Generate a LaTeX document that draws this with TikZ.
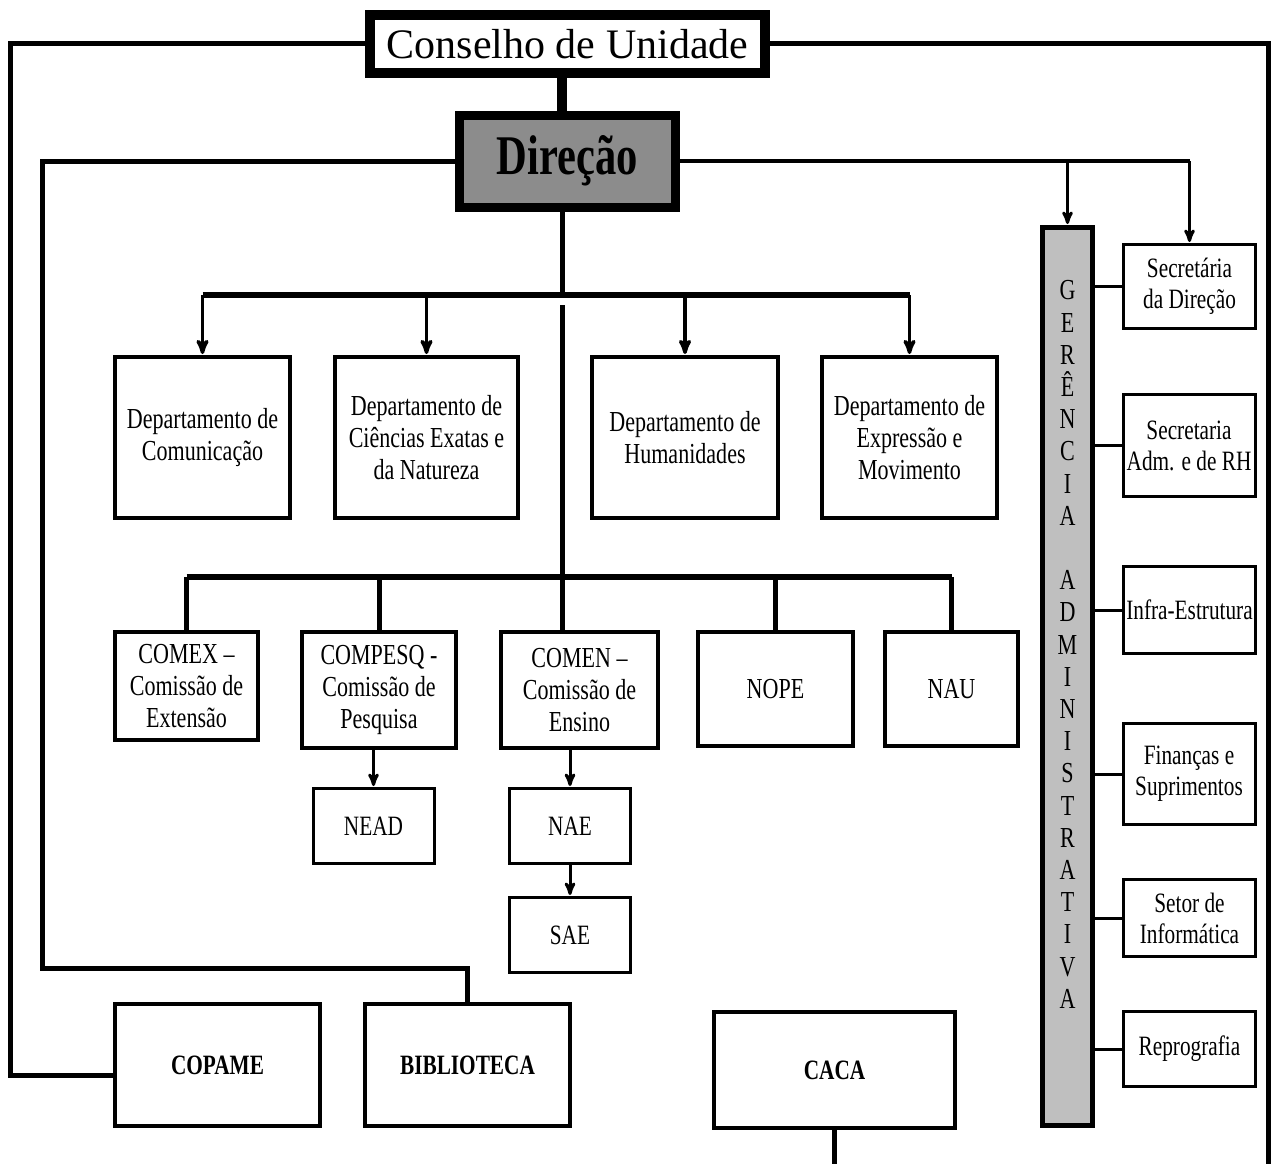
\documentclass[tikz,border=0pt]{standalone}
\usepackage{fontspec}
\setmainfont{Liberation Serif}
\newfontfamily\narrowfont{Liberation Serif}[FakeStretch=0.76]
\usepackage{tikz}
\usetikzlibrary{arrows,positioning}

\begin{document}
\begin{tikzpicture}[x=1pt,y=-1pt,>=stealth',
  top node/.style={draw,fill=white,line width=10pt,inner sep=0pt,minimum width=395pt,minimum height=58pt,font=\fontsize{42}{42}\selectfont},
  head node/.style={draw,fill=black!45,line width=9pt,inner sep=0pt,minimum width=216pt,minimum height=92pt,font=\narrowfont\bfseries\fontsize{56}{56}\selectfont},
  dept node/.style={draw,fill=white,line width=4pt,inner sep=0pt,minimum height=161pt,align=center,font=\narrowfont\fontsize{29}{32}\selectfont},
  com node/.style={draw,fill=white,line width=4pt,inner sep=0pt,align=center,font=\narrowfont\fontsize{29}{32}\selectfont},
  sub node/.style={draw,fill=white,line width=3pt,inner sep=0pt,minimum width=121pt,minimum height=75pt,font=\narrowfont\fontsize{28}{28}\selectfont},
  base node/.style={draw,fill=white,line width=4pt,inner sep=0pt,font=\narrowfont\bfseries\fontsize{28}{28}\selectfont},
  adm node/.style={draw,fill=black!25,line width=5pt,inner sep=0pt,minimum width=50pt,minimum height=898pt},
  sec node/.style={draw,fill=white,line width=3pt,inner sep=0pt,minimum width=132pt,align=center,font=\narrowfont\fontsize{28}{31}\selectfont},
  link/.style={line width=5pt},
  arrow link/.style={->,line width=3.5pt,shorten >=1pt}]
  \useasboundingbox (0,0) rectangle (1273,1164);

  % top of the chart
  \node[top node] (cons) at (567.5,44) {Conselho de Unidade};
  \node[head node] (dir) at (567.5,161) {Direção};

  % departamentos
  \node[dept node,minimum width=175pt] (dcom) at (202.5,437.5) {Departamento de\\Comunicação};
  \node[dept node,minimum width=183pt] (dcen) at (426.5,437.5) {Departamento de\\Ciências Exatas e\\da Natureza};
  \node[dept node,minimum width=186pt] (dhum) at (685,437.5) {Departamento de\\Humanidades};
  \node[dept node,minimum width=175pt] (dexp) at (909.5,437.5) {Departamento de\\Expressão e\\Movimento};

  % comissoes e nucleos
  \node[com node,minimum width=143pt,minimum height=108pt] (comex) at (186.5,686) {COMEX –\\Comissão de\\Extensão};
  \node[com node,minimum width=154pt,minimum height=116pt] (compesq) at (379,690) {COMPESQ -\\Comissão de\\Pesquisa};
  \node[com node,minimum width=157pt,minimum height=116pt] (comen) at (579.5,690) {COMEN –\\Comissão de\\Ensino};
  \node[com node,minimum width=155pt,minimum height=114pt] (nope) at (775.5,689) {NOPE};
  \node[com node,minimum width=133pt,minimum height=114pt] (nau) at (951.5,689) {NAU};

  \node[sub node] (nead) at (373.5,826) {NEAD};
  \node[sub node] (nae) at (570,826) {NAE};
  \node[sub node] (sae) [below=31pt of nae] {SAE};

  % base
  \node[base node,minimum width=205pt,minimum height=122pt] (copame) at (217.5,1065) {COPAME};
  \node[base node,minimum width=205pt,minimum height=122pt] (biblio) at (467.5,1065) {BIBLIOTECA};
  \node[base node,minimum width=241pt,minimum height=116pt] (caca) at (834.5,1070) {CACA};

  % gerencia administrativa
  \node[adm node] (ger) at (1067.5,676.5) {};
  \node[align=center,inner sep=0pt,font=\narrowfont\fontsize{29}{32.2}\selectfont] (gertxt) at ([yshift=32pt]ger.center)
    {G\\E\\R\\Ê\\N\\C\\I\\A\\[32.2pt]A\\D\\M\\I\\N\\I\\S\\T\\R\\A\\T\\I\\V\\A};

  \node[sec node,minimum height=84pt] (sdir) at (1189.5,286.5) {Secretária\\da Direção};
  \node[sec node,minimum height=102pt] (sadm) at (1189,445.5) {Secretaria\\Adm. e de RH};
  \node[sec node,minimum height=87pt] (infra) at (1189.5,610) {Infra-Estrutura};
  \node[sec node,minimum height=101pt] (fin) at (1189,774) {Finanças e\\Suprimentos};
  \node[sec node,minimum height=77pt] (info) at (1189.5,918) {Setor de\\Informática};
  \node[sec node,minimum height=75pt] (repro) at (1189.5,1049) {Reprografia};

  \coordinate (bar1) at (562,295);
  \coordinate (trunk) at (562,305);
  \coordinate (bar2) at (562,577);
  \coordinate (lc) at (10,0);
  \coordinate (dl) at (42,968);
  \coordinate (rb) at (1268,1164);

  % connectors
  \draw[line width=10pt] (bar1 |- cons.south) -- (bar1 |- dir.north);
  \draw[link] (bar1 |- dir.south) -- (bar1);
  \draw[line width=6pt] (bar1 -| dcom.north) -- (bar1 -| dexp.north);
  \foreach \d in {dcom,dcen,dhum,dexp}
    \draw[arrow link] (bar1 -| \d.north) -- (\d.north);

  \draw[link] (trunk) -- (trunk |- comen.north);
  \draw[line width=6pt] (bar2 -| comex.north) -- (bar2 -| nau.north);
  \foreach \c in {comex,compesq,nope,nau}
    \draw[link] (bar2 -| \c.north) -- (\c.north);

  \draw[arrow link,line width=3pt] (nead.north |- compesq.south) -- (nead.north);
  \draw[arrow link,line width=3pt] (nae.north |- comen.south) -- (nae.north);
  \draw[arrow link,line width=3pt] (nae.south) -- (sae.north);

  \draw[link] (cons.west) -| ([yshift=-10pt]lc |- copame.west) -- ([yshift=-10pt]copame.west);
  \draw[link] (dir.west) -| (dl) -| (biblio.north);
  \draw[link] (cons.east) -| (rb);
  \draw[link] (caca.south) -- (caca.south |- rb);

  \draw[line width=4pt] (dir.east) -- (dir.east -| sdir.north);
  \draw[arrow link,line width=3pt] (dir.east -| ger.north) -- (ger.north);
  \draw[arrow link,line width=3pt] (dir.east -| sdir.north) -- (sdir.north);
  \foreach \s in {sdir,sadm,infra,fin,info,repro}
    \draw[line width=3pt] (ger.east |- \s.west) -- (\s.west);
\end{tikzpicture}
\end{document}
